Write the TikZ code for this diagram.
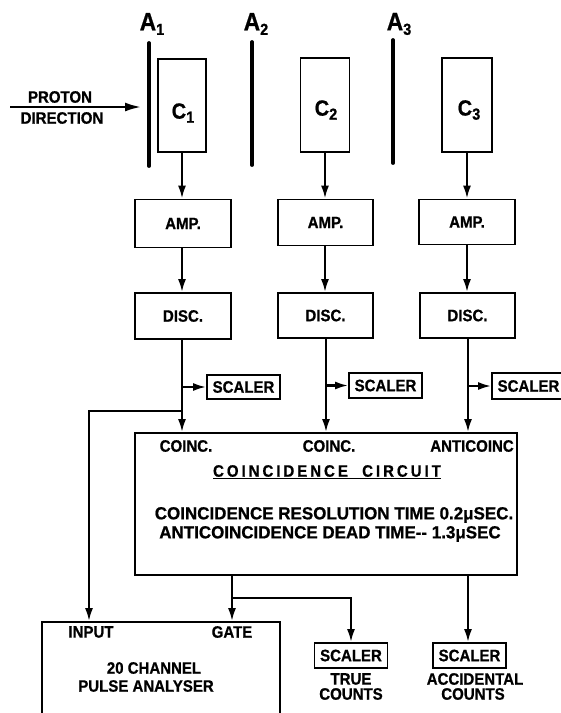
\documentclass[tikz,border=0pt]{standalone}
\usepackage{fontspec}
\setmainfont{Liberation Sans}[Ligatures=NoCommon, FakeStretch=0.91, BoldFeatures={FakeBold=0.8}]
\newfontfamily\widefont{Liberation Sans}[Ligatures=NoCommon, FakeStretch=0.97, BoldFeatures={FakeBold=0.8}]
\usetikzlibrary{arrows.meta}
\newcommand{\lsub}[1]{\raisebox{-0.35ex}{\fontsize{16}{16}\selectfont #1}}
\tikzset{
  every node/.style={font=\fontsize{16.5}{18}\selectfont\bfseries, inner sep=0pt},
  blk/.style={draw, line width=1.8pt, minimum width=#1, anchor=center},
  blk/.default=96pt,
  scl/.style={draw, line width=1.8pt, minimum width=73pt, minimum height=25pt},
  arr/.style={line width=2.2pt, -{Latex[length=13pt,width=8pt]}},
  parr/.style={line width=2.2pt, -{Latex[length=16pt,width=9pt]}},
  bar/.style={line width=3.8pt, line cap=round},
  big/.style={font=\fontsize{25}{25}\selectfont\bfseries},
  cfont/.style={font=\fontsize{22}{22}\selectfont\bfseries},
  longline/.style={font=\widefont\fontsize{17.5}{19}\selectfont\bfseries},
}
\begin{document}
\begin{tikzpicture}[x=1pt,y=-1pt]
\useasboundingbox (0,0) rectangle (561,713);
% absorbers
\node[big] (A1l) at (152,24) {A\lsub{1}};
\node[big] (A2l) at (256,24) {A\lsub{2}};
\node[big] (A3l) at (399,24) {A\lsub{3}};
\coordinate (a1t) at (149,43); \coordinate (a1b) at (149,166);
\coordinate (a2t) at (252,42); \coordinate (a2b) at (252,165);
\coordinate (a3t) at (393,40); \coordinate (a3b) at (393,163);
\draw[bar] (a1t) -- (a1b);
\draw[bar] (a2t) -- (a2b);
\draw[bar] (a3t) -- (a3b);
% proton direction
\coordinate (pa) at (10,107); \coordinate (pb) at (141,107);
\draw[parr] (pa) -- (pb);
\node (prot) at (60,97) {PROTON};
\node (dirn) at (62,118) {DIRECTION};
% counters
\node[blk=48pt, minimum height=93pt] (c1) at (182,105.5) {};
\node[blk=49pt, minimum height=94pt] (c2) at (325,105) {};
\node[blk=50pt, minimum height=94pt] (c3) at (467,105) {};
\node[cfont] (c1l) at (183,113) {C\lsub{1}};
\node[cfont] (c2l) at (326,110) {C\lsub{2}};
\node[cfont] (c3l) at (469,110) {C\lsub{3}};
% amplifiers
\node[blk, minimum height=48pt] (amp1) at (183,223.5) {AMP.};
\node[blk=95pt, minimum height=46pt] (amp2) at (325.5,222.5) {AMP.};
\node[blk, minimum height=45pt] (amp3) at (467,222) {AMP.};
% discriminators
\node[blk, minimum height=46pt] (disc1) at (183,316) {DISC.};
\node[blk=95pt, minimum height=45pt] (disc2) at (325.5,315.5) {DISC.};
\node[blk=95pt, minimum height=45pt] (disc3) at (467.5,315.5) {DISC.};
% scalers
\node[scl, minimum height=24pt] (s1) at (243.5,387) {SCALER};
\node[scl] (s2) at (385.5,385.5) {SCALER};
\node[scl, minimum height=26pt] (s3) at (528.5,386) {SCALER};
% coincidence circuit
\node[draw, line width=1.8pt, minimum width=382pt, minimum height=142pt] (cc) at (326,504) {};
\node (k1) at (186,446) {COINC.};
\node (k2) at (329,446) {COINC.};
\node (k3) at (472,446) {ANTICOINC};
\node (cct) at (327,472) {\addfontfeatures{LetterSpace=18}\underline{COINCIDENCE\ \ CIRCUIT}};
\node[longline] (cr1) at (334,515) {COINCIDENCE RESOLUTION TIME 0.2μSEC.};
\node[longline] (cr2) at (330,534) {ANTICOINCIDENCE DEAD TIME-{}- 1.3μSEC};
% pulse analyser
\node[draw, line width=1.8pt, minimum width=238pt, minimum height=138pt] (pha) at (161,691) {};
\node (inp) at (91,632) {INPUT};
\node (gate) at (232,632) {GATE};
\node (ph1) at (154,668) {20 CHANNEL};
\node (ph2) at (146,686) {PULSE ANALYSER};
% output scalers
\node[scl] (st) at (351,655.5) {SCALER};
\node (st1) at (351,679) {TRUE};
\node (st2) at (351,694) {COUNTS};
\node[scl] (sa) at (469.5,655.5) {SCALER};
\node (sa1) at (475,679) {ACCIDENTAL};
\node (sa2) at (473,694) {COUNTS};
% connectors
\draw[arr] (c1.south) -- (amp1.north -| c1.south);
\draw[arr] (c2.south) -- (amp2.north -| c2.south);
\draw[arr] (c3.south) -- (amp3.north -| c3.south);
\draw[arr] (amp1.south -| c1.south) -- (disc1.north -| c1.south);
\draw[arr] (amp2.south -| c2.south) -- (disc2.north -| c2.south);
\draw[arr] (amp3.south -| c3.south) -- (disc3.north -| c3.south);
\coordinate (x1) at (182,0); \coordinate (x2) at (326,0); \coordinate (x3) at (468,0);
\draw[arr] (disc1.south -| x1) -- (cc.north -| x1);
\draw[arr] (disc2.south -| x2) -- (cc.north -| x2);
\draw[arr] (disc3.south -| x3) -- (cc.north -| x3);
\draw[arr] (s1.west -| x1) -- (s1.west);
\draw[arr] (s2.west -| x2) -- (s2.west);
\draw[arr] (s3.west -| x3) -- (s3.west);
\coordinate (j1) at (182,411); \coordinate (xin) at (89,0);
\draw[arr] (j1) -- (j1 -| xin) -- (pha.north -| xin);
\coordinate (xg) at (232,0); \coordinate (j2) at (232,598);
\draw[arr] (cc.south -| xg) -- (pha.north -| xg);
\draw[arr] (j2) -| (st.north);
\draw[arr] (cc.south -| x3) -- (sa.north -| x3);
\end{tikzpicture}
\end{document}
